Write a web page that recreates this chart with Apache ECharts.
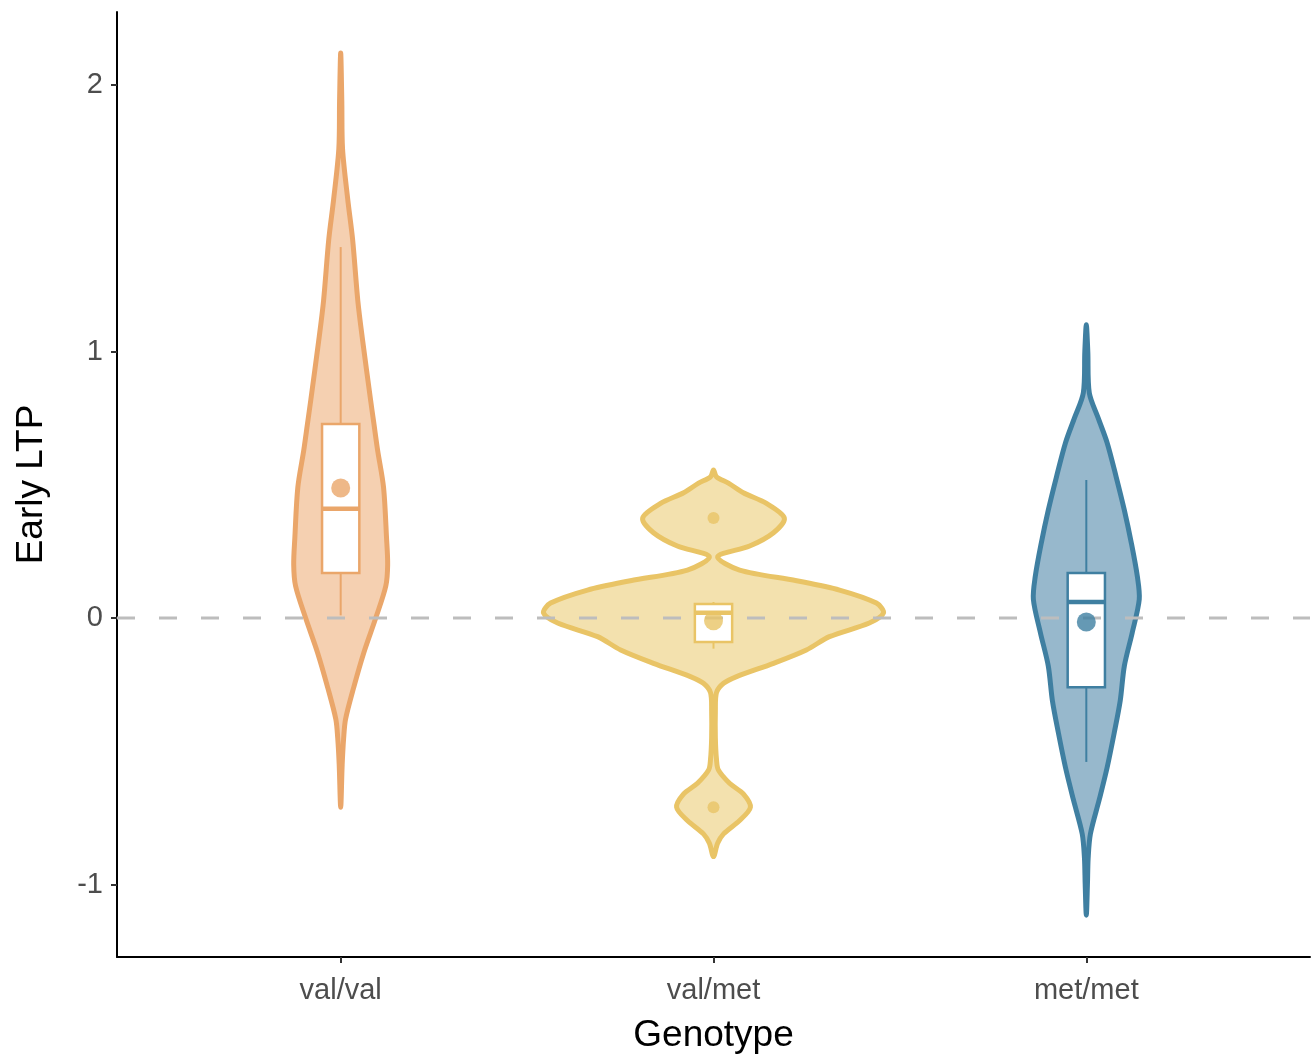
<!DOCTYPE html>
<html>
<head>
<meta charset="utf-8">
<script src="https://cdn.jsdelivr.net/npm/echarts@6/dist/echarts.min.js"></script>
<style>
  html, body { margin: 0; padding: 0; background: #ffffff; }
  #chart { width: 1314px; height: 1061px; }
</style>
</head>
<body>
<div id="chart"></div>
<script>
// Genotype groups and y-axis ticks
const genotypes = ['val/val', 'val/met', 'met/met'];
const yTicks = [-1, 0, 1, 2];

// Violin density outlines: y positions and half-widths (category units)
const valvalY = [2.12, 1.94, 1.76, 1.57, 1.42, 1.19, 1.04, 0.82, 0.73, 0.63, 0.49, 0.30, 0.20, 0.12, 0.0, -0.13, -0.26, -0.38, -0.45, -0.55, -0.71];
const valvalW = [0, 0.003, 0.005, 0.019, 0.032, 0.046, 0.059, 0.080, 0.089, 0.099, 0.115, 0.123, 0.126, 0.121, 0.094, 0.062, 0.035, 0.013, 0.008, 0.004, 0];

const valmetY = [0.555, 0.53, 0.506, 0.47, 0.43, 0.375, 0.32, 0.27, 0.23, 0.18, 0.14, 0.105, 0.056, 0.019, -0.019, -0.07, -0.12, -0.17, -0.22, -0.245, -0.28, -0.35, -0.45, -0.53, -0.57, -0.62, -0.66, -0.71, -0.76, -0.81, -0.845, -0.895];
const valmetW = [0, 0.008, 0.040, 0.080, 0.142, 0.190, 0.161, 0.097, 0.011, 0.070, 0.223, 0.338, 0.437, 0.456, 0.418, 0.311, 0.249, 0.161, 0.062, 0.027, 0.008, 0.005, 0.005, 0.008, 0.013, 0.043, 0.080, 0.099, 0.070, 0.027, 0.011, 0];

const metmetY = [1.10, 1.0, 0.845, 0.75, 0.657, 0.53, 0.405, 0.28, 0.155, 0.07, -0.056, -0.18, -0.31, -0.43, -0.56, -0.68, -0.81, -0.9, -1.0, -1.115];
const metmetW = [0, 0.004, 0.008, 0.032, 0.056, 0.080, 0.102, 0.121, 0.137, 0.142, 0.123, 0.102, 0.091, 0.075, 0.056, 0.035, 0.011, 0.005, 0.003, 0];

// Box plot statistics per genotype
const whiskerLow  = [0.01, -0.115, -0.54];
const boxQ1       = [0.169, -0.09, -0.26];
const boxMedian   = [0.41, 0.02, 0.06];
const boxQ3       = [0.728, 0.053, 0.169];
const whiskerHigh = [1.392, 0.06, 0.518];

// Group means and outlying observations
const groupMeans = [0.488, -0.01, -0.015];
const outlierGroup = [2, 2];
const outlierValue = [0.375, -0.71];

const violinY = [valvalY, valmetY, metmetY];
const violinW = [valvalW, valmetW, metmetW];

const lineColors = ['#EAA66A', '#E9C466', '#3F7FA1'];
const fillColors = ['#F5D0B1', '#F3E1AE', '#97B8CC'];
const FONT = '"Liberation Sans", Arial, Helvetica, sans-serif';
const BOX_HALF = 0.05;

const chart = echarts.init(document.getElementById('chart'), null, { renderer: 'canvas' });

function renderViolin(params, api) {
  const g = params.dataIndex;
  const cx = api.value(0);
  const ys = violinY[g], ws = violinW[g];
  const pts = [];
  for (let k = 0; k < ys.length; k++) pts.push(api.coord([cx + ws[k], ys[k]]));
  for (let k = ys.length - 2; k >= 1; k--) pts.push(api.coord([cx - ws[k], ys[k]]));

  const col = lineColors[g];
  const topL = api.coord([cx - BOX_HALF, boxQ3[g]]);
  const botR = api.coord([cx + BOX_HALF, boxQ1[g]]);
  const medL = api.coord([cx - BOX_HALF, boxMedian[g]]);
  const medR = api.coord([cx + BOX_HALF, boxMedian[g]]);
  const wHi = api.coord([cx, whiskerHigh[g]]);
  const wQ3 = api.coord([cx, boxQ3[g]]);
  const wQ1 = api.coord([cx, boxQ1[g]]);
  const wLo = api.coord([cx, whiskerLow[g]]);

  return {
    type: 'group',
    children: [
      {
        type: 'polygon',
        shape: { points: pts, smooth: 0.3 },
        style: { fill: fillColors[g], stroke: col, lineWidth: 5, lineJoin: 'round' }
      },
      {
        type: 'line',
        shape: { x1: wHi[0], y1: wHi[1], x2: wQ3[0], y2: wQ3[1] },
        style: { stroke: col, lineWidth: 2 }
      },
      {
        type: 'line',
        shape: { x1: wQ1[0], y1: wQ1[1], x2: wLo[0], y2: wLo[1] },
        style: { stroke: col, lineWidth: 2 }
      },
      {
        type: 'rect',
        shape: { x: topL[0], y: topL[1], width: botR[0] - topL[0], height: botR[1] - topL[1] },
        style: { fill: '#ffffff', stroke: col, lineWidth: 2.5 }
      },
      {
        type: 'line',
        shape: { x1: medL[0], y1: medL[1], x2: medR[0], y2: medR[1] },
        style: { stroke: col, lineWidth: 4.5 }
      }
    ]
  };
}

const option = {
  backgroundColor: '#ffffff',
  animation: false,
  textStyle: { fontFamily: FONT },
  grid: { left: 117, right: 4, top: 12, bottom: 104 },
  xAxis: {
    type: 'value',
    min: 0.4,
    max: 3.6,
    name: 'Genotype',
    nameLocation: 'middle',
    nameGap: 60,
    nameTextStyle: { fontSize: 37, color: '#000000', fontFamily: FONT },
    axisLine: { show: true, onZero: false, lineStyle: { color: '#000000', width: 2 } },
    axisTick: { show: true, customValues: [1, 2, 3], length: 6, lineStyle: { color: '#333333', width: 2 } },
    axisLabel: {
      show: true,
      customValues: [1, 2, 3],
      formatter: v => genotypes[Math.round(v) - 1],
      fontSize: 29,
      color: '#4D4D4D',
      margin: 19,
      fontFamily: FONT
    },
    splitLine: { show: false }
  },
  yAxis: {
    type: 'value',
    min: -1.272,
    max: 2.274,
    name: 'Early LTP',
    nameLocation: 'middle',
    nameGap: 67,
    nameTextStyle: { fontSize: 37, color: '#000000', fontFamily: FONT },
    axisLine: { show: true, onZero: false, lineStyle: { color: '#000000', width: 2 } },
    axisTick: { show: true, customValues: yTicks, length: 6, lineStyle: { color: '#333333', width: 2 } },
    axisLabel: {
      show: true,
      customValues: yTicks,
      fontSize: 29,
      color: '#4D4D4D',
      margin: 14,
      fontFamily: FONT
    },
    splitLine: { show: false }
  },
  series: [
    {
      type: 'custom',
      name: 'violins',
      renderItem: renderViolin,
      clip: false,
      encode: { x: 0, y: 1 },
      data: genotypes.map((n, i) => [i + 1, groupMeans[i]]),
      z: 2
    },
    {
      type: 'line',
      name: 'reference',
      data: [[0.4, 0], [3.6, 0]],
      symbol: 'none',
      lineStyle: { color: '#BDBDBD', width: 3, type: [18, 24] },
      z: 3,
      silent: true
    },
    {
      type: 'scatter',
      name: 'means',
      data: genotypes.map((n, i) => ({ value: [i + 1, groupMeans[i]], itemStyle: { color: lineColors[i] } })),
      symbolSize: 19,
      z: 4
    },
    {
      type: 'scatter',
      name: 'outliers',
      data: outlierGroup.map((g, i) => ({ value: [g, outlierValue[i]], itemStyle: { color: lineColors[g - 1] } })),
      symbolSize: 12,
      z: 4
    }
  ]
};

chart.setOption(option);
</script>
</body>
</html>
